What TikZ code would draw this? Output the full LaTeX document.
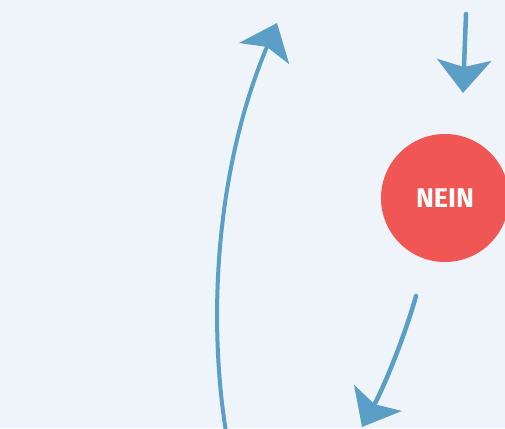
\documentclass[tikz,border=0pt]{standalone}
\usepackage{fontspec}
\setsansfont{Fira Sans}
\usepackage{tikz}
\usetikzlibrary{arrows.meta,positioning,shapes.geometric}
\definecolor{bgblue}{HTML}{EEF4F9}
\definecolor{arrowblue}{HTML}{5C9FC6}
\definecolor{neinred}{HTML}{F05653}
\tikzset{
  flowarrow/.style={arrowblue,line width=4.5pt,line cap=round,
    -{Stealth[length=33pt,width=54pt,inset=7pt]}},
  answer/.style={circle,fill=neinred,text=white,minimum size=128pt,
    font=\sffamily\bfseries\fontsize{27}{30}\selectfont}
}
\begin{document}
\begin{tikzpicture}[x=1pt,y=-1pt]

    \fill[bgblue] (0,0) rectangle (505,428);
    \useasboundingbox (0,0) rectangle (505,428);

    \node[answer] (nein) at (445,198) {NEIN};

    % free ends of the connectors
    \coordinate (intop) at (466,14);
    \coordinate (inend) at (463,93);
    \coordinate (outstart) at (416,296);
    \coordinate (outend) at (362,427);
    \coordinate (backstart) at (226,432);
    \coordinate (backend) at (277,23);

    \draw[flowarrow] (intop) -- (inend);
    \draw[flowarrow] (outstart) .. controls (405,335) and (385,385) .. (outend);
    \draw[flowarrow,line width=4pt] (backstart) .. controls (208,320) and (215,170) .. (backend);
  \end{tikzpicture}
\end{document}
